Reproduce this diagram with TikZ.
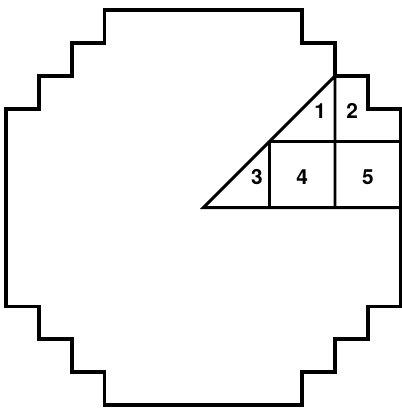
\documentclass[tikz,border=0pt]{standalone}
\usepackage{fontspec}
\setsansfont{TeX Gyre Heros}
\begin{document}
\begin{tikzpicture}[x=1cm,y=1cm,
  outline/.style={line width=3.2pt},
  inner/.style={line width=2.5pt},
  lbl/.style={font=\fontsize{18}{18}\selectfont\sffamily\bfseries, inner sep=0pt}]
\useasboundingbox (-6.18,-6.18) rectangle (6.01,6.31);
\draw[outline] (-3,6) -- (3,6) -- (3,5) -- (4,5) -- (4,4) -- (5,4) -- (5,3) -- (6,3)
  -- (6,-3) -- (5,-3) -- (5,-4) -- (4,-4) -- (4,-5) -- (3,-5) -- (3,-6)
  -- (-3,-6) -- (-3,-5) -- (-4,-5) -- (-4,-4) -- (-5,-4) -- (-5,-3) -- (-6,-3)
  -- (-6,3) -- (-5,3) -- (-5,4) -- (-4,4) -- (-4,5) -- (-3,5) -- cycle;
\coordinate (o) at (0,0);
\coordinate (d2) at (2,2);
\coordinate (d4) at (4,4);
\coordinate (b2) at (2,0);
\coordinate (b4) at (4,0);
\coordinate (b6) at (6,0);
\coordinate (m4) at (4,2);
\coordinate (m6) at (6,2);
\draw[inner, line join=miter] (b6) -- (o) -- (d4) -- (b4);
\draw[inner] (d2) -- (m6);
\draw[inner] (d2) -- (b2);
\node[lbl] (n1) at (3.55,2.92) {1};
\node[lbl] (n2) at (4.52,2.95) {2};
\node[lbl] (n3) at (1.63,0.93) {3};
\node[lbl] (n4) at (3.0,0.93) {4};
\node[lbl] (n5) at (5.0,0.93) {5};
\end{tikzpicture}
\end{document}
